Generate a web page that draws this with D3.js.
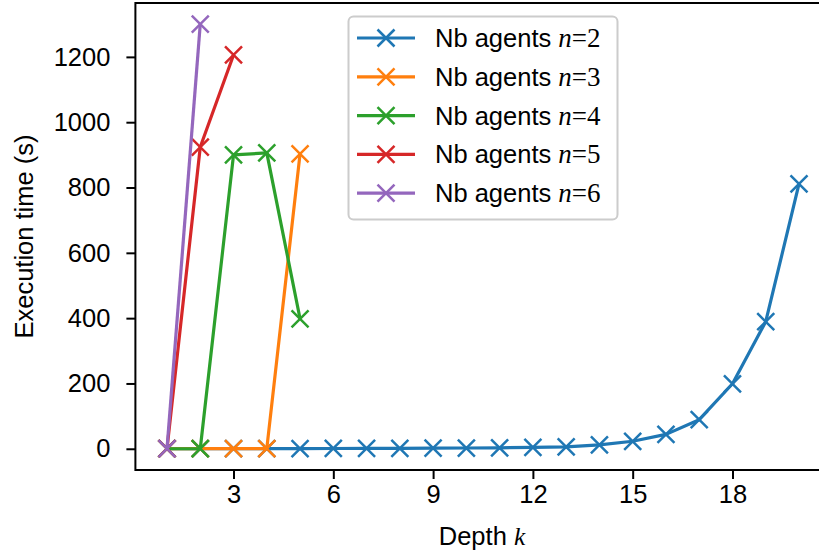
<!DOCTYPE html>
<head>
<meta charset="utf-8">
<title>Execution time vs depth</title>
<script src="https://d3js.org/d3.v7.min.js"></script>
<style type="text/css">
body { margin: 0; background: #fff; }
svg { display: block; overflow: hidden; }
.tick text { font-family: "Liberation Sans", Arial, sans-serif; font-size: 25.5px; fill: #000; }
</style>
</head>

<body>
<script type="text/javascript">

// consts
const svgW = 819;
const svgH = 554;

// data
const depthN2 = [1,2,3,4,5,6,7,8,9,10,11,12,13,14,15,16,17,18,19,20];
const timeN2  = [0.1,0.2,0.3,0.5,0.7,0.9,1.1,1.4,1.8,2.3,3,4,6,12,23,44,89,199,389,811];
const depthN3 = [1,2,3,4,5];
const timeN3  = [0.1,0.2,0.3,0.5,903];
const depthN4 = [1,2,3,4,5];
const timeN4  = [0.1,0.2,900,906,398];
const depthN5 = [1,2,3];
const timeN5  = [0.1,924,1206];
const depthN6 = [1,2];
const timeN6  = [0.1,1300];

const agents = [2,3,4,5,6];
const colors = ["#1f77b4","#ff7f0e","#2ca02c","#d62728","#9467bd"];
const xTicks = [3,6,9,12,15,18];
const yTicks = [0,200,400,600,800,1000,1200];

const series = [
    {n: agents[0], x: depthN2, y: timeN2},
    {n: agents[1], x: depthN3, y: timeN3},
    {n: agents[2], x: depthN4, y: timeN4},
    {n: agents[3], x: depthN5, y: timeN5},
    {n: agents[4], x: depthN6, y: timeN6}
];

// plot area (right spine falls outside the picture)
const pLeft = 135.4, pRight = 830.6, pTop = 3, pBottom = 470;
const fs = 25.5;

const x = d3.scaleLinear().domain([0.05, 20.95]).range([pLeft, pRight]);
const y = d3.scaleLinear().domain([-65, 1365]).range([pBottom, pTop]);

const svg = d3.select("body")
    .append("svg")
    .attr("width", svgW)
    .attr("height", svgH);

// axes
const xAxis = svg.append("g")
    .attr("transform", "translate(0," + pBottom + ")")
    .call(d3.axisBottom(x).tickValues(xTicks).tickFormat(d3.format("d")).tickSize(9).tickPadding(6));
const yAxis = svg.append("g")
    .attr("transform", "translate(" + pLeft + ",0)")
    .call(d3.axisLeft(y).tickValues(yTicks).tickFormat(d3.format("d")).tickSize(9).tickPadding(16));

[xAxis, yAxis].forEach(a => {
    a.select(".domain").remove();
    a.selectAll(".tick line").attr("stroke", "#000").attr("stroke-width", 2);
});

// frame
svg.append("rect")
    .attr("x", pLeft).attr("y", pTop)
    .attr("width", pRight - pLeft).attr("height", pBottom - pTop)
    .attr("fill", "none").attr("stroke", "#000").attr("stroke-width", 2);

// lines + x markers
const line = d3.line().x(d => x(d[0])).y(d => y(d[1]));
const cross = (g, cx, cy, c) => {
    const s = 8.5;
    g.append("path")
        .attr("d", `M${cx-s},${cy-s}L${cx+s},${cy+s}M${cx-s},${cy+s}L${cx+s},${cy-s}`)
        .attr("stroke", c).attr("stroke-width", 2.5).attr("fill", "none");
};

series.forEach((s, i) => {
    const pts = s.x.map((d, j) => [d, s.y[j]]);
    const g = svg.append("g");
    g.append("path")
        .attr("d", line(pts))
        .attr("fill", "none")
        .attr("stroke", colors[i])
        .attr("stroke-width", 3.2)
        .attr("stroke-linejoin", "round");
    pts.forEach(p => cross(g, x(p[0]), y(p[1]), colors[i]));
});

// labels
svg.append("text")
    .attr("x", (pLeft + pRight) / 2 - 1)
    .attr("y", 545)
    .attr("text-anchor", "middle")
    .attr("font-family", "Liberation Sans, Arial, sans-serif")
    .attr("font-size", fs)
    .html('Depth <tspan font-family="Liberation Serif, serif" font-style="italic">k</tspan>');

svg.append("text")
    .attr("transform", "translate(33," + (pTop + pBottom) / 2 + ") rotate(-90)")
    .attr("text-anchor", "middle")
    .attr("font-family", "Liberation Sans, Arial, sans-serif")
    .attr("font-size", fs)
    .text("Execution time (s)");

// legend
const leg = svg.append("g");
leg.append("rect")
    .attr("x", 348.5).attr("y", 16.5)
    .attr("width", 269).attr("height", 203)
    .attr("rx", 5)
    .attr("fill", "#fff").attr("fill-opacity", 0.8)
    .attr("stroke", "#ccc").attr("stroke-width", 2);

series.forEach((s, i) => {
    const ly = 38 + i * 38.8;
    leg.append("line")
        .attr("x1", 357).attr("x2", 415)
        .attr("y1", ly).attr("y2", ly)
        .attr("stroke", colors[i]).attr("stroke-width", 3.2);
    cross(leg, 386, ly, colors[i]);
    leg.append("text")
        .attr("x", 435).attr("y", ly + 9)
        .attr("font-family", "Liberation Sans, Arial, sans-serif")
        .attr("font-size", fs)
        .html('Nb agents <tspan font-family="Liberation Serif, serif" font-style="italic" font-size="27">n</tspan>'
            + '<tspan font-family="Liberation Serif, serif" font-size="27">=' + s.n + '</tspan>');
});

</script>
</body>
